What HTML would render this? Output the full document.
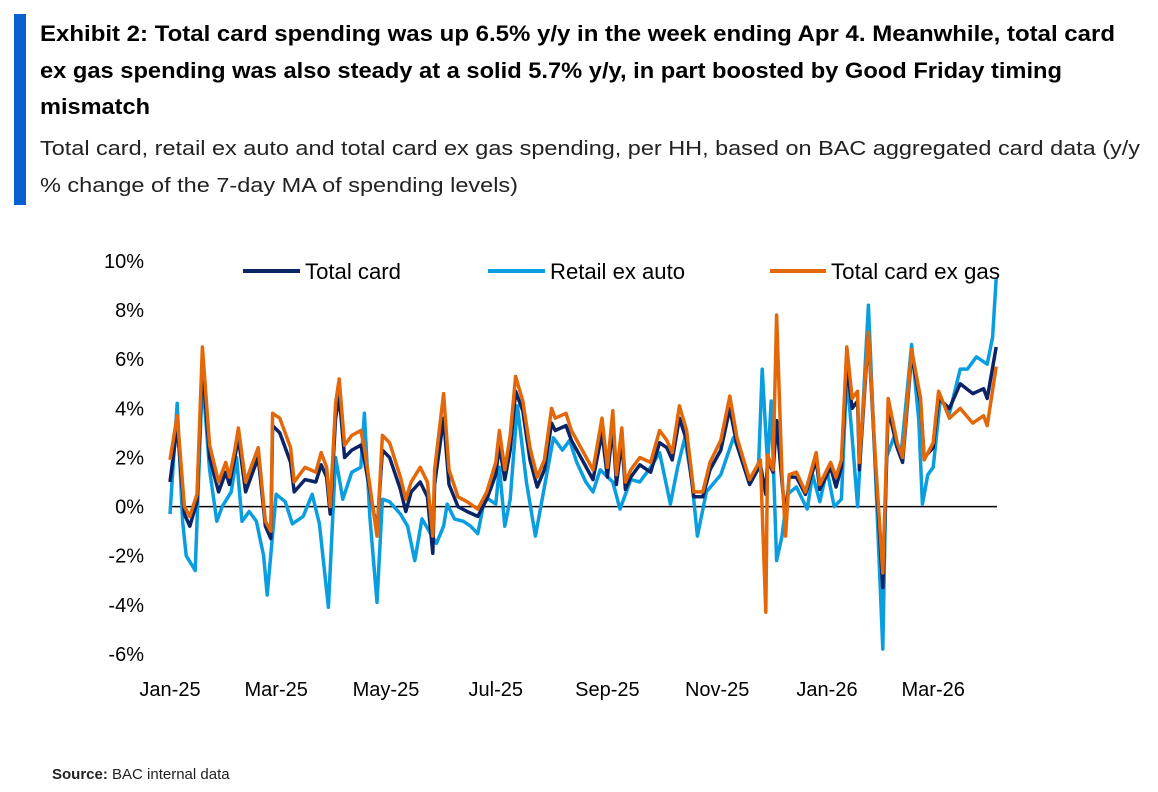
<!DOCTYPE html>
<html><head><meta charset="utf-8"><style>
html,body{margin:0;padding:0;background:#fff;}
svg{display:block;font-family:"Liberation Sans",Arial,sans-serif;}
</style></head><body>
<svg id="chart" width="1158" height="792" viewBox="0 0 1158 792">
<rect x="14" y="14" width="12" height="191" fill="#0a5fd0"/>
<g font-weight="bold" font-size="22" fill="#000">
<text x="40" y="41" textLength="1075" lengthAdjust="spacingAndGlyphs">Exhibit 2: Total card spending was up 6.5% y/y in the week ending Apr 4. Meanwhile, total card</text>
<text x="40" y="78" textLength="1022" lengthAdjust="spacingAndGlyphs">ex gas spending was also steady at a solid 5.7% y/y, in part boosted by Good Friday timing</text>
<text x="40" y="114" textLength="110" lengthAdjust="spacingAndGlyphs">mismatch</text>
</g>
<g font-size="20" fill="#222">
<text x="40" y="155" textLength="1100" lengthAdjust="spacingAndGlyphs">Total card, retail ex auto and total card ex gas spending, per HH, based on BAC aggregated card data (y/y</text>
<text x="40" y="192" textLength="478" lengthAdjust="spacingAndGlyphs">% change of the 7-day MA of spending levels)</text>
</g>
<g id="yaxis"></g>
<g id="xaxis"></g>
<g id="series"></g>
<g font-size="22" fill="#000">
<g><line x1="243" y1="271" x2="300" y2="271" stroke="#0a2466" stroke-width="4"/><text x="305" y="279" textLength="96" lengthAdjust="spacingAndGlyphs">Total card</text></g>
<g><line x1="488" y1="271" x2="545" y2="271" stroke="#0a9ee0" stroke-width="4"/><text x="550" y="279" textLength="135" lengthAdjust="spacingAndGlyphs">Retail ex auto</text></g>
<g><line x1="770" y1="271" x2="826" y2="271" stroke="#e3680a" stroke-width="4"/><text x="831" y="279" textLength="169" lengthAdjust="spacingAndGlyphs">Total card ex gas</text></g>
</g>
<g font-size="15" fill="#222">
<text x="52" y="779"><tspan font-weight="bold">Source:</tspan> BAC internal data</text>
</g>
</svg>
<script>
const yTicks=[10,8,6,4,2,0,-2,-4,-6];
const xTickLabels=["Jan-25","Mar-25","May-25","Jul-25","Sep-25","Nov-25","Jan-26","Mar-26"];
const xTickDays=[0,59,120,181,243,304,365,424];
const totalCard=[[0,1.0],[4,3.3],[8,-0.3],[11,-0.8],[15,0.2],[18,5.9],[22,2.0],[27,0.6],[31,1.4],[33,0.9],[36,2.0],[38,2.8],[42,0.6],[46,1.4],[49,2.0],[53,-0.8],[56,-1.3],[57,3.3],[61,3.0],[67,1.8],[69,0.6],[75,1.1],[81,1.0],[84,1.7],[87,1.2],[89,-0.3],[92,3.6],[94,4.5],[97,2.0],[101,2.3],[106,2.5],[108,1.9],[115,-1.0],[118,2.3],[122,2.0],[128,0.7],[131,-0.2],[134,0.6],[139,1.0],[143,0.4],[146,-1.9],[147,0.9],[152,3.6],[155,0.9],[160,0.0],[165,-0.2],[171,-0.4],[176,0.3],[181,1.3],[183,2.5],[186,1.1],[189,2.3],[192,4.7],[196,3.9],[200,1.9],[204,0.8],[208,1.5],[212,3.4],[214,3.1],[220,3.3],[223,2.7],[229,1.9],[235,1.1],[240,3.0],[243,1.2],[246,3.3],[248,0.9],[251,2.7],[253,0.7],[256,1.2],[261,1.7],[267,1.4],[272,2.6],[276,2.4],[279,1.9],[283,3.6],[287,2.7],[291,0.4],[296,0.4],[300,1.5],[306,2.3],[311,4.0],[315,2.5],[322,0.9],[328,1.7],[331,0.5],[332,1.9],[335,1.4],[337,3.5],[340,1.0],[342,-0.5],[344,1.2],[348,1.2],[353,0.5],[359,1.9],[361,0.7],[367,1.6],[370,0.8],[373,1.6],[376,5.8],[379,4.0],[382,4.3],[383,1.5],[388,7.0],[392,1.6],[396,-3.3],[399,4.0],[404,2.4],[407,1.8],[412,6.2],[417,4.2],[419,2.0],[424,2.4],[427,4.4],[433,4.0],[439,5.0],[446,4.6],[452,4.8],[454,4.4],[459,6.5]];
const retailExAuto=[[0,-0.3],[4,4.2],[7,-0.6],[9,-2.0],[14,-2.6],[18,5.3],[22,1.5],[26,-0.6],[29,0],[34,0.6],[37,2.0],[40,-0.6],[44,-0.2],[48,-0.6],[52,-2.0],[54,-3.6],[59,0.5],[64,0.2],[68,-0.7],[74,-0.4],[79,0.5],[83,-0.7],[88,-4.1],[92,2.0],[96,0.3],[101,1.4],[106,1.6],[108,3.8],[111,-0.4],[115,-3.9],[118,0.3],[122,0.2],[128,-0.3],[132,-0.8],[136,-2.2],[140,-0.5],[144,-1.0],[148,-1.5],[152,-0.8],[154,0.1],[158,-0.5],[163,-0.6],[167,-0.8],[171,-1.1],[175,0.4],[181,0.1],[183,1.6],[186,-0.8],[189,0.3],[193,4.1],[198,1.0],[203,-1.2],[208,0.8],[213,2.8],[218,2.3],[222,2.7],[226,1.8],[231,1.0],[235,0.6],[239,1.5],[246,1.0],[250,-0.1],[256,1.1],[261,1.0],[267,1.6],[272,2.2],[278,0.1],[282,1.6],[286,2.8],[290,1.0],[293,-1.2],[298,0.6],[306,1.3],[313,2.8],[317,2.2],[322,1.0],[327,1.7],[329,5.6],[332,1.7],[334,4.3],[337,-2.2],[340,-1.2],[343,0.5],[348,0.8],[354,-0.1],[357,1.3],[361,0.2],[365,1.5],[369,0],[373,0.3],[376,5.4],[379,2.8],[382,0],[388,8.2],[393,-0.5],[396,-5.8],[398,2.0],[402,2.8],[406,2.0],[412,6.6],[416,3.5],[418,0.1],[421,1.3],[424,1.6],[428,4.4],[433,3.8],[439,5.6],[443,5.6],[448,6.1],[454,5.8],[457,6.9],[459,9.3]];
const totalCardExGas=[[0,1.9],[4,3.7],[8,0],[11,-0.4],[15,0.5],[18,6.5],[22,2.5],[27,1.0],[31,1.8],[33,1.2],[36,2.3],[38,3.2],[42,1.0],[46,1.8],[49,2.4],[53,-0.6],[56,-1.0],[57,3.8],[61,3.6],[67,2.4],[69,1.0],[75,1.6],[81,1.4],[84,2.2],[87,1.6],[89,0],[92,4.2],[94,5.2],[97,2.5],[101,2.9],[106,3.1],[108,2.4],[115,-1.2],[118,2.9],[122,2.6],[128,1.2],[131,0.3],[134,1.0],[139,1.6],[143,1.0],[146,-1.2],[147,1.5],[152,4.6],[155,1.5],[160,0.4],[165,0.2],[171,-0.1],[176,0.6],[181,1.8],[183,3.1],[186,1.5],[189,2.9],[192,5.3],[196,4.3],[200,2.4],[204,1.2],[208,1.9],[212,4.0],[214,3.6],[220,3.8],[223,3.1],[229,2.3],[235,1.5],[240,3.6],[243,1.6],[246,3.9],[248,1.3],[251,3.2],[253,1.0],[256,1.5],[261,2.0],[267,1.8],[272,3.1],[276,2.7],[279,2.2],[283,4.1],[287,3.1],[291,0.6],[296,0.6],[300,1.8],[306,2.7],[311,4.5],[315,2.8],[322,1.1],[328,1.9],[331,-4.3],[332,2.1],[335,1.5],[337,7.8],[340,1.3],[342,-1.2],[344,1.3],[348,1.4],[353,0.6],[359,2.2],[361,0.9],[367,1.8],[370,1.2],[373,1.9],[376,6.5],[379,4.4],[382,4.7],[383,1.8],[388,7.1],[392,1.8],[396,-2.7],[399,4.4],[404,2.6],[407,2.0],[412,6.4],[417,4.4],[419,1.9],[424,2.6],[427,4.7],[433,3.6],[439,4.0],[446,3.4],[452,3.7],[454,3.3],[459,5.7]];

const NS="http://www.w3.org/2000/svg";
function xScale(d){return 170+d*1.8;}
function yScale(v){return 506.6-v*24.56;}
const yG=document.getElementById('yaxis');
yTicks.forEach(v=>{
  const t=document.createElementNS(NS,'text');
  t.setAttribute('x',144);t.setAttribute('y',yScale(v)+7);
  t.setAttribute('text-anchor','end');t.setAttribute('font-size','20');
  t.textContent=v+'%';
  
  
  yG.appendChild(t);
});
const xG=document.getElementById('xaxis');
xTickLabels.forEach((lab,i)=>{
  const t=document.createElementNS(NS,'text');
  t.setAttribute('x',xScale(xTickDays[i]));t.setAttribute('y',696);
  t.setAttribute('text-anchor','middle');t.setAttribute('font-size','20');
  t.textContent=lab;
  
  
  xG.appendChild(t);
});
const sG=document.getElementById('series');
const zl=document.createElementNS(NS,'line');
zl.setAttribute('x1',170);zl.setAttribute('x2',997);
zl.setAttribute('y1',yScale(0));zl.setAttribute('y2',yScale(0));
zl.setAttribute('stroke','#000');zl.setAttribute('stroke-width','1.5');


sG.appendChild(zl);
function draw(data,color,name){
  const p=document.createElementNS(NS,'polyline');
  p.setAttribute('points',data.map(d=>xScale(d[0]).toFixed(1)+','+yScale(d[1]).toFixed(1)).join(' '));
  p.setAttribute('fill','none');p.setAttribute('stroke',color);
  p.setAttribute('stroke-width','3.5');p.setAttribute('stroke-linejoin','round');
  
  
  sG.appendChild(p);
}
draw(retailExAuto,'#0a9ee0','retail-ex-auto-line');
draw(totalCard,'#0a2466','total-card-line');
draw(totalCardExGas,'#e3680a','total-card-ex-gas-line');
</script>
</body></html>
